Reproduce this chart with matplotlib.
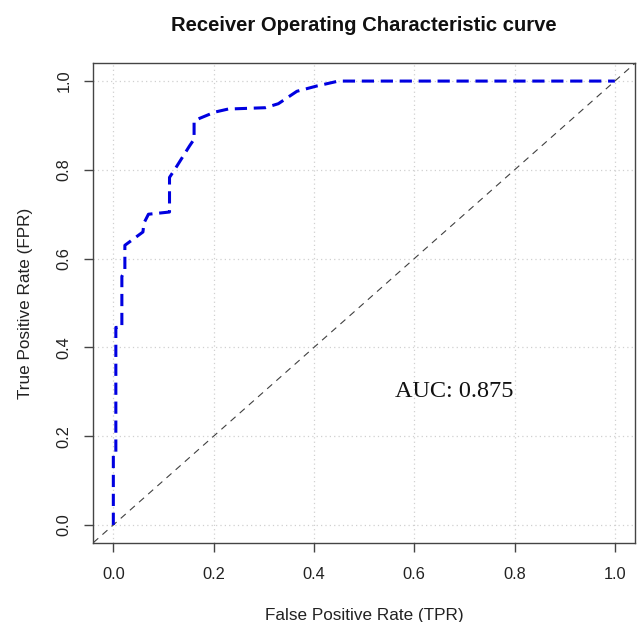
import matplotlib
matplotlib.use("Agg")
import matplotlib.pyplot as plt

# ROC curve points
fpr = [0.0, 0.0, 0.005, 0.005, 0.017, 0.017, 0.023, 0.023, 0.059, 0.061,
       0.070, 0.112, 0.112, 0.122, 0.152, 0.161, 0.161, 0.172, 0.202, 0.229,
       0.303, 0.329, 0.366, 0.406, 0.449, 1.0]
tpr = [0.0, 0.16, 0.16, 0.445, 0.445, 0.56, 0.573, 0.63, 0.66, 0.68,
       0.70, 0.705, 0.783, 0.80, 0.854, 0.869, 0.91, 0.916, 0.93, 0.937,
       0.94, 0.949, 0.977, 0.989, 1.0, 1.0]
ticks = [0.0, 0.2, 0.4, 0.6, 0.8, 1.0]
auc_label = "AUC: 0.875"

plt.rcParams['font.family'] = ['Liberation Sans', 'DejaVu Sans']

fig = plt.figure(figsize=(6.38, 6.22), dpi=100)
ax = fig.add_axes([0.1462, 0.1275, 0.849, 0.7707])

ax.set_xlim(-0.04, 1.04)
ax.set_ylim(-0.04, 1.04)
ax.set_xticks(ticks)
ax.set_yticks(ticks)
ax.set_xticklabels(["{:.1f}".format(t) for t in ticks])
ax.set_yticklabels(["{:.1f}".format(t) for t in ticks], rotation=90, va='center')

ax.grid(True, color='#d0d0d0', linestyle=(0, (1, 2.5)), linewidth=0.9)
ax.set_axisbelow(True)

ax.plot(fpr, tpr, color='#0000e0', linewidth=2.2, linestyle=(0, (4, 2.2)),
        solid_capstyle='butt', dash_capstyle='butt', zorder=3)
ax.axline((0, 0), (1, 1), color='#404040', linewidth=0.8, linestyle=(0, (6, 5)), zorder=2)

ax.text(0.68, 0.30, auc_label, family='Liberation Serif', fontsize=17.5,
        ha='center', va='center', color='#111111')

for s in ax.spines.values():
    s.set_color('#444444')
    s.set_linewidth(1.0)
ax.tick_params(direction='out', length=6.5, width=1.0, color='#444444',
               labelsize=11.8, labelcolor='#222222')
ax.tick_params(axis='x', pad=11)
ax.tick_params(axis='y', pad=9)

ax.set_xlabel("False Positive Rate (TPR)", fontsize=12.3, color='#222222', labelpad=19)
ax.set_ylabel("True Positive Rate (FPR)", fontsize=12.3, color='#222222', labelpad=17)
ax.set_title("Receiver Operating Characteristic curve", fontsize=14.6,
             fontweight='bold', color='#111111', pad=23)

fig.savefig("out.png", dpi=100)
